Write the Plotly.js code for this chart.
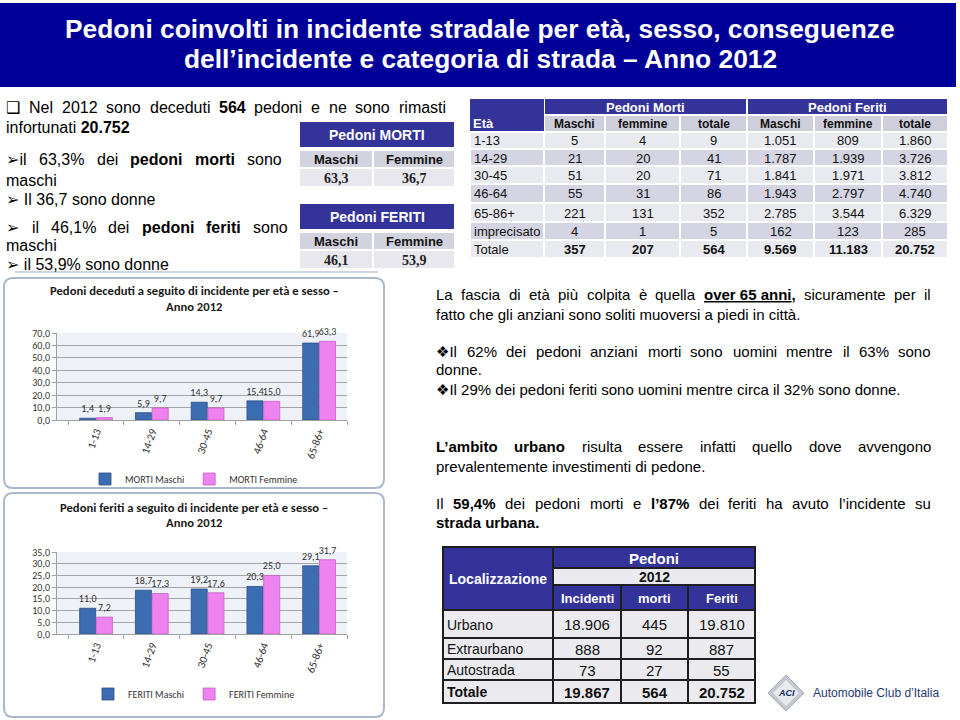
<!DOCTYPE html>
<html><head><meta charset="utf-8">
<script src="https://cdn.plot.ly/plotly-3.0.1.min.js"></script>
<style>html,body{margin:0;padding:0;background:#fff}#chart{width:960px;height:720px}</style>
</head><body><div id="chart"></div>
<script>
// ---------- DATA ----------
const ageGroups = ['1-13', '14-29', '30-45', '46-64', '65-86+'];
const mortiMaschiPct = [1.4, 5.9, 14.3, 15.4, 61.9];
const mortiFemminePct = [1.9, 9.7, 9.7, 15.0, 63.3];
const feritiMaschiPct = [11.0, 18.7, 19.2, 20.3, 29.1];
const feritiFemminePct = [7.2, 17.3, 17.6, 25.0, 31.7];

const tableHeaders = ['Età', 'Maschi', 'femmine', 'totale', 'Maschi', 'femmine', 'totale'];
const tableGroups = ['Pedoni Morti', 'Pedoni Feriti'];
const tableAges = ['1-13', '14-29', '30-45', '46-64', '65-86+', 'imprecisato', 'Totale'];
const mortiMaschi = [5, 21, 51, 55, 221, 4, 357];
const mortiFemmine = [4, 20, 20, 31, 131, 1, 207];
const mortiTotale = [9, 41, 71, 86, 352, 5, 564];
const feritiMaschi = [1051, 1787, 1841, 1943, 2785, 162, 9569];
const feritiFemmine = [809, 1939, 1971, 2797, 3544, 123, 11183];
const feritiTotale = [1860, 3726, 3812, 4740, 6329, 285, 20752];

const sexLabels = ['Maschi', 'Femmine'];
const mortiSexPct = [63.3, 36.7];
const feritiSexPct = [46.1, 53.9];

const locHeaders = ['Localizzazione', 'Incidenti', 'morti', 'Feriti'];
const locLabels = ['Urbano', 'Extraurbano', 'Autostrada', 'Totale'];
const locIncidenti = [18906, 888, 73, 19867];
const locMorti = [445, 92, 27, 564];
const locFeriti = [19810, 887, 55, 20752];

// ---------- HELPERS ----------
const W = 960, H = 720;
const X = p => p / W;
const Y = p => 1 - p / H;
const itNum = n => String(n).replace(/\B(?=(\d{3})+(?!\d))/g, '.');
const dec1 = v => v.toFixed(1).replace('.', ',');

const cv = document.createElement('canvas').getContext('2d');
function fontAvailable(name) {
  const s = 'abcdefghijklmnopqrstuvwxyzABCDEFGHIJ0123456789';
  cv.font = '40px monospace'; const a = cv.measureText(s).width;
  cv.font = '40px "' + name + '", monospace'; const b = cv.measureText(s).width;
  return a !== b;
}
const FONT = 'Liberation Sans, Arial, DejaVu Sans, sans-serif';
const CFONT = '"Liberation Sans", Arial, "DejaVu Sans", sans-serif';
const NARROW = fontAvailable('Liberation Sans Narrow') ? 'Liberation Sans Narrow' : 'Liberation Sans';
const CHART = fontAvailable('Carlito') ? 'Carlito' : 'Lato';
const SERIF = 'Liberation Serif, Times New Roman, serif';

function measure(str, size, bold, fam) {
  cv.font = (bold ? 'bold ' : '') + size + 'px ' + fam;
  return cv.measureText(str).width;
}
const strip = s => s.replace(/<[^>]+>/g, '');

const annotations = [];
const shapes = [];
function A(text, x, y, o = {}) {
  annotations.push({
    xref: 'paper', yref: 'paper', x: X(x), y: Y(y), text: text, showarrow: false,
    xanchor: o.xanchor || 'left', yanchor: 'middle', borderpad: 0, borderwidth: 0,
    font: {family: o.family || FONT, size: o.size || 16, color: o.color || '#000'}
  });
}
function R(x0, y0, x1, y1, fill, line, layer) {
  shapes.push({type: 'rect', xref: 'paper', yref: 'paper', x0: X(x0), x1: X(x1), y0: Y(y1), y1: Y(y0),
    fillcolor: fill, line: line || {width: 0}, layer: layer || 'above'});
}
// one table cell: a filled box (with a white gap or a dark border) and its text
function cell(x0, y0, x1, y1, fill, text, o = {}) {
  if (o.border) R(x0, y0, x1, y1, fill, {color: o.border, width: 2});
  else R(x0 + 1, y0 + 1, x1 - 1, y1 - 1, fill);
  if (text !== undefined && text !== '') {
    const left = o.align === 'left';
    A(text, left ? x0 + 4 : (x0 + x1) / 2, (y0 + y1) / 2 + 0.5,
      {xanchor: left ? 'left' : 'center', size: o.size || 13, color: o.color || '#111', family: o.family});
  }
}
function roundFrame(x0, y0, x1, y1, r, color, width) {
  const p = (x, y) => X(x) + ',' + Y(y);
  const d = 'M' + p(x0 + r, y0) + ' L' + p(x1 - r, y0) + ' Q' + p(x1, y0) + ' ' + p(x1, y0 + r) +
    ' L' + p(x1, y1 - r) + ' Q' + p(x1, y1) + ' ' + p(x1 - r, y1) + ' L' + p(x0 + r, y1) +
    ' Q' + p(x0, y1) + ' ' + p(x0, y1 - r) + ' L' + p(x0, y0 + r) + ' Q' + p(x0, y0) + ' ' + p(x0 + r, y0) + ' Z';
  shapes.push({type: 'path', xref: 'paper', yref: 'paper', path: d, line: {color: color, width: width},
    fillcolor: 'rgba(0,0,0,0)', layer: 'below'});
}
function textLine(spec, x0, x1, y, size, justify) {
  if (!justify) { A(spec, x0, y, {size: size}); return; }
  const tokens = spec.split(/ (?![^<]*>)/);
  const widths = tokens.map(t => measure(strip(t), size, t.indexOf('<b>') >= 0, CFONT));
  const total = widths.reduce((a, b) => a + b, 0);
  const gap = (x1 - x0 - total) / (tokens.length - 1);
  let x = x0;
  tokens.forEach((t, i) => { A(t, x, y, {size: size}); x += widths[i] + gap; });
}

// ---------- TITLE BANNER ----------
R(0, 3, 956, 87, '#000099');
const title1 = 'Pedoni coinvolti in incidente stradale per età, sesso, conseguenze';
const title2 = 'dell’incidente e categoria di strada – Anno 2012';
const tSize = Math.min(30, 28 * 830 / measure(title1, 28, true, '"' + NARROW + '"'));
A('<b>' + title1 + '</b>', 480, 29, {xanchor: 'center', size: tSize, color: '#fff', family: NARROW});
A('<b>' + title2 + '</b>', 480, 59, {xanchor: 'center', size: tSize, color: '#fff', family: NARROW});

// ---------- LEFT TEXT ----------
[
  ['❑ Nel 2012 sono deceduti <b>564</b> pedoni e ne sono rimasti', 107, 446],
  ['infortunati <b>20.752</b>', 127, 0],
  ['➢il 63,3% dei <b>pedoni</b> <b>morti</b> sono', 159, 282],
  ['maschi', 180, 0],
  ['➢ Il 36,7 sono donne', 199, 0],
  ['➢ il 46,1% dei <b>pedoni</b> <b>feriti</b> sono', 227, 288],
  ['maschi', 245, 0],
  ['➢ il 53,9% sono donne', 264, 0]
].forEach(l => textLine(l[0], 6, l[2], l[1], 16, l[2] > 0));
shapes.push({type: 'line', xref: 'paper', yref: 'paper', x0: X(15), x1: X(378), y0: Y(272), y1: Y(272),
  line: {color: '#cdd5e0', width: 2}, layer: 'below'});

// ---------- RIGHT TEXT ----------
[
  ['La fascia di età più colpita è quella <b><span style="text-decoration:underline">over\u00a065\u00a0anni</span>,</b> sicuramente per il', 294, true],
  ['fatto che gli anziani sono soliti muoversi a piedi in città.', 314, false],
  ['❖Il 62% dei pedoni anziani morti sono uomini mentre il 63% sono', 351, true],
  ['donne.', 370, false],
  ['❖Il 29% dei pedoni feriti sono uomini mentre circa il 32% sono donne.', 389, false],
  ['<b>L’ambito</b> <b>urbano</b> risulta essere infatti quello dove avvengono', 446, true],
  ['prevalentemente investimenti di pedone.', 466, false],
  ['Il <b>59,4%</b> dei pedoni morti e <b>l’87%</b> dei feriti ha avuto l’incidente su', 503, true],
  ['<b>strada urbana.</b>', 522, false]
].forEach(l => textLine(l[0], 436, 931, l[1], 15, l[2]));

// ---------- SMALL TABLES ----------
const BLUE = '#333399';
function sexTable(title, vals, top) {
  const cx = [299, 373, 455];
  cell(299, top, 455, top + 27, BLUE, '<b>' + title + '</b>', {size: 14, color: '#fff'});
  sexLabels.forEach((s, i) => cell(cx[i], top + 29, cx[i + 1], top + 47, '#d3d3df', '<b>' + s + '</b>', {size: 13}));
  vals.forEach((v, i) => cell(cx[i], top + 47, cx[i + 1], top + 66, '#e7e7ed', '<b>' + dec1(v) + '</b>',
    {size: 14, family: SERIF, color: '#222'}));
}
sexTable('Pedoni MORTI', mortiSexPct, 121);
sexTable('Pedoni FERITI', feritiSexPct, 203);

// ---------- BIG TABLE ----------
const bx = [470, 544, 605, 680, 747, 814, 882, 948];
const by = [132, 149, 166, 184, 203, 222, 240, 258];
R(470, 99, 544, 131, BLUE);
A('<b>' + tableHeaders[0] + '</b>', 473, 123, {size: 13, color: '#fff'});
cell(544, 98, 747, 115, BLUE, '<b>' + tableGroups[0] + '</b>', {size: 13, color: '#fff'});
cell(747, 98, 948, 115, BLUE, '<b>' + tableGroups[1] + '</b>', {size: 13, color: '#fff'});
tableHeaders.slice(1).forEach((h, i) => cell(bx[i + 1], 115, bx[i + 2], 132, '#cfcfdc', '<b>' + h + '</b>', {size: 12}));
const lastRow = tableAges.length - 1;
const bigCols = [tableAges, mortiMaschi, mortiFemmine, mortiTotale, feritiMaschi, feritiFemmine, feritiTotale];
bigCols.forEach((col, c) => col.forEach((v, r) => {
  let t = c === 0 ? v : itNum(v);
  if (c > 0 && r === lastRow) t = '<b>' + t + '</b>';
  cell(bx[c], by[r], bx[c + 1], by[r + 1], r % 2 === 0 ? '#e9e9f0' : '#d4d4e2', t,
    {size: 13, align: c === 0 ? 'left' : 'center'});
}));

// ---------- LOCATION TABLE ----------
const lx = [443, 553, 621, 688, 755];
const ly = [610, 638, 659, 680, 703];
const DARK = '#1e1e1e';
cell(443, 547, 553, 610, BLUE, '<b>' + locHeaders[0] + '</b>', {size: 14, color: '#fff', border: DARK});
cell(553, 547, 755, 568, BLUE, '<b>Pedoni</b>', {size: 15, color: '#fff', border: DARK});
cell(553, 568, 755, 585, '#ebebef', '<b>2012</b>', {size: 14, border: DARK});
locHeaders.slice(1).forEach((h, i) => cell(lx[i + 1], 585, lx[i + 2], 610, BLUE, '<b>' + h + '</b>',
  {size: 13, color: '#fff', border: DARK}));
const locLast = locLabels.length - 1;
[locLabels, locIncidenti, locMorti, locFeriti].forEach((col, c) => col.forEach((v, r) => {
  let t = c === 0 ? v : itNum(v);
  if (r === locLast) t = '<b>' + t + '</b>';
  cell(lx[c], ly[r], lx[c + 1], ly[r + 1], '#ebebef', t,
    {size: c === 0 ? 14 : 15, align: c === 0 ? 'left' : 'center', border: DARK});
}));

// ---------- LOGO ----------
shapes.push({type: 'path', xref: 'paper', yref: 'paper', layer: 'above',
  path: 'M' + X(786) + ',' + Y(675) + ' L' + X(804) + ',' + Y(693) + ' L' + X(786) + ',' + Y(711) + ' L' + X(768) + ',' + Y(693) + ' Z',
  fillcolor: '#c4c8d0', line: {color: '#a8adb6', width: 1}});
shapes.push({type: 'path', xref: 'paper', yref: 'paper', layer: 'above',
  path: 'M' + X(786) + ',' + Y(680) + ' L' + X(799) + ',' + Y(693) + ' L' + X(786) + ',' + Y(706) + ' L' + X(773) + ',' + Y(693) + ' Z',
  fillcolor: '#e8eaee', line: {width: 0}});
A('<b><i>ACI</i></b>', 786, 693, {xanchor: 'center', size: 9, color: '#1d2f6f'});
A('Automobile Club d’Italia', 813, 693, {size: 12, color: '#1f3b70', family: NARROW});

// ---------- CHART FRAMES & TITLES ----------
roundFrame(4, 278, 384, 488, 9, '#a9b8cc', 2);
roundFrame(4, 493, 384, 717, 9, '#a9b8cc', 2);
const ct1 = 'Pedoni deceduti a seguito di incidente per età e sesso –';
const ct2 = 'Pedoni feriti a seguito di incidente per età e sesso –';
const ctSize = Math.min(13, 12 * 289 / measure(ct1, 12, true, '"' + CHART + '"'));
A('<b>' + ct1 + '</b>', 194, 290, {xanchor: 'center', size: ctSize, color: '#1a1a1a', family: CHART});
A('<b>Anno 2012</b>', 194, 306, {xanchor: 'center', size: ctSize, color: '#1a1a1a', family: CHART});
A('<b>' + ct2 + '</b>', 194, 507, {xanchor: 'center', size: ctSize, color: '#1a1a1a', family: CHART});
A('<b>Anno 2012</b>', 194, 522, {xanchor: 'center', size: ctSize, color: '#1a1a1a', family: CHART});

// ---------- BAR TRACES ----------
const MBLUE = '#3c6db3', MPINK = '#ee82ee';
function barTrace(name, vals, color, xa, ya, lg) {
  return {type: 'bar', name: name, x: ageGroups, y: vals, xaxis: xa, yaxis: ya, legend: lg,
    marker: {color: color, line: {color: color === MBLUE ? '#2b4f86' : '#c55fc5', width: 0.8}},
    texttemplate: '%{y:.1f}', textposition: 'outside', cliponaxis: false, constraintext: 'none',
    textfont: {family: CHART, size: 10, color: '#333'}, hoverinfo: 'skip'};
}
const traces = [
  barTrace('MORTI Maschi', mortiMaschiPct, MBLUE, 'x', 'y', 'legend'),
  barTrace('MORTI Femmine', mortiFemminePct, MPINK, 'x', 'y', 'legend'),
  barTrace('FERITI Maschi', feritiMaschiPct, MBLUE, 'x2', 'y2', 'legend2'),
  barTrace('FERITI Femmine', feritiFemminePct, MPINK, 'x2', 'y2', 'legend2')
];

const xCommon = {type: 'category', range: [-0.7, 4.5], tickangle: -70, showgrid: false,
  showline: true, linecolor: '#a0a0a0', ticks: 'outside', tickson: 'boundaries', ticklen: 4, tickcolor: '#a0a0a0',
  tickfont: {family: CHART, size: 11, color: '#333'}, fixedrange: true};
const yCommon = {showgrid: true, gridcolor: '#a5a5a5', gridwidth: 1, zeroline: false, showline: true,
  linecolor: '#a0a0a0', ticks: 'outside', ticklen: 4, tickcolor: '#a0a0a0', tickformat: '.1f',
  tickfont: {family: CHART, size: 10, color: '#333'}, fixedrange: true};

const legendCommon = {orientation: 'h', xanchor: 'center', yanchor: 'middle', x: X(194),
  font: {family: CHART, size: 10, color: '#333'}, bgcolor: 'rgba(0,0,0,0)', itemwidth: 30};

const layout = {
  width: W, height: H, margin: {l: 0, r: 0, t: 0, b: 0}, autosize: false,
  paper_bgcolor: '#fff', plot_bgcolor: '#eef2f8', separators: ',.',
  font: {family: FONT, color: '#000'},
  barmode: 'group', bargap: 0.4, bargroupgap: 0.04, showlegend: true,
  xaxis: Object.assign({}, xCommon, {domain: [X(57), X(347)], anchor: 'y'}),
  yaxis: Object.assign({}, yCommon, {domain: [Y(420), Y(333)], anchor: 'x', range: [0, 70], dtick: 10}),
  xaxis2: Object.assign({}, xCommon, {domain: [X(57), X(347)], anchor: 'y2'}),
  yaxis2: Object.assign({}, yCommon, {domain: [Y(634), Y(552)], anchor: 'x2', range: [0, 35], dtick: 5}),
  legend: Object.assign({}, legendCommon, {y: Y(479)}),
  legend2: Object.assign({}, legendCommon, {y: Y(694)}),
  shapes: shapes, annotations: annotations, hovermode: false
};

Plotly.newPlot('chart', traces, layout, {displayModeBar: false, staticPlot: true});
</script>
</body></html>
